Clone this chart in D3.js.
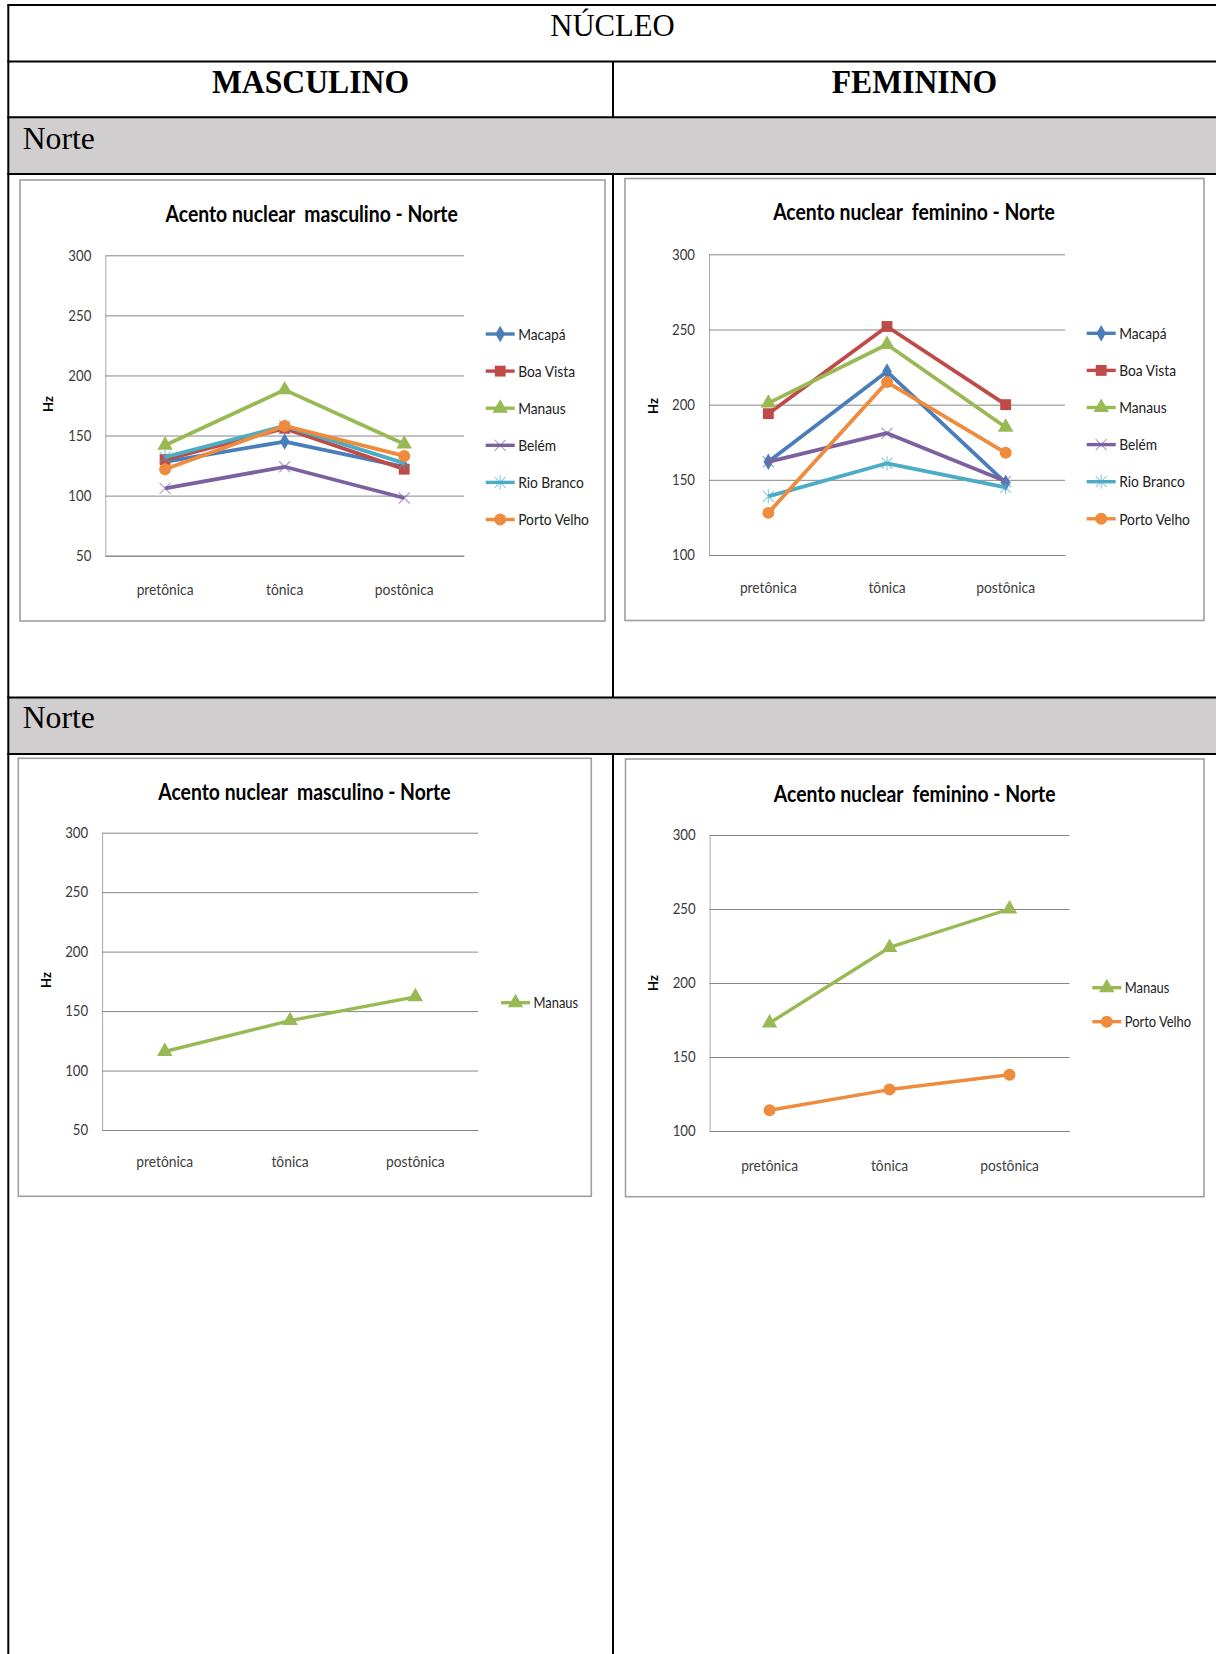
<!DOCTYPE html>
<html>
<head>
<meta charset="utf-8">
<script src="https://cdn.jsdelivr.net/npm/d3@7"></script>
<style>
  html, body { margin: 0; padding: 0; background: #fff; }
  svg { display: block; }
  text { white-space: pre; }
</style>
</head>
<body>
<svg id="page" width="1216" height="1654"></svg>
<script>
// ---- data -------------------------------------------------------------
const categories = ["pretônica", "tônica", "postônica"];
const cities = ["Macapá", "Boa Vista", "Manaus", "Belém", "Rio Branco", "Porto Velho"];
const cityColors = ["#4a7ebb", "#be4b48", "#98b954", "#7d60a0", "#4bacc6", "#ee8b3c"];
const cityMarkers = ["diamond", "square", "triangle", "cross", "asterisk", "circle"];

// Acento nuclear masculino - Norte (Hz), one row per city
const mascNorteValues = [
  [128, 145, 124],   // Macapá
  [130, 156, 122],   // Boa Vista
  [142, 188, 143],   // Manaus
  [106, 124, 98],    // Belém
  [132, 158, 127],   // Rio Branco
  [122, 158, 133]    // Porto Velho
];
// Acento nuclear feminino - Norte (Hz)
const femNorteValues = [
  [162, 222, 148],   // Macapá
  [194, 252, 200],   // Boa Vista
  [201, 240, 185],   // Manaus
  [162, 181, 149],   // Belém
  [139, 161, 145],   // Rio Branco
  [128, 215, 168]    // Porto Velho
];
// second block: Manaus only (masculino)
const mascManausCities = ["Manaus"];
const mascManausValues = [[116, 142, 162]];
// second block: Manaus and Porto Velho (feminino)
const femPairCities = ["Manaus", "Porto Velho"];
const femPairValues = [
  [173, 224, 250],
  [114, 128, 138]
];

const mascTicks = [50, 100, 150, 200, 250, 300];
const femTicks = [100, 150, 200, 250, 300];

const headerTitle = "NÚCLEO";
const columnTitles = ["MASCULINO", "FEMININO"];
const regionLabel = "Norte";
const mascTitle = "Acento nuclear  masculino - Norte";
const femTitle = "Acento nuclear  feminino - Norte";
const yLabel = "Hz";

// ---- page frame -------------------------------------------------------
const svg = d3.select("#page");
const serif = "'Liberation Serif', 'Times New Roman', serif";
const chartFont = "Lato, 'Open Sans', sans-serif";

function condense(sel, k) {
  sel.each(function () {
    const w = this.getComputedTextLength();
    d3.select(this).attr("textLength", w * k).attr("lengthAdjust", "spacingAndGlyphs");
  });
}

const frame = svg.append("g");
const leftX = 8.3, midX = 613, rightX = 1217;
const rows = { top: 5, head2: 61.5, band1: 117.3, body1: 174, band2: 697.5, body2: 754, end: 1654 };

// grey region bands
[[rows.band1, rows.body1], [rows.band2, rows.body2]].forEach(([a, b]) => {
  frame.append("rect").attr("x", leftX).attr("y", a).attr("width", rightX - leftX).attr("height", b - a)
    .attr("fill", "#d0cecf");
});

// horizontal rules
[rows.top, rows.head2, rows.band1, rows.body1, rows.band2, rows.body2].forEach(yv => {
  frame.append("line").attr("x1", leftX - 1).attr("x2", rightX).attr("y1", yv).attr("y2", yv)
    .attr("stroke", "#000").attr("stroke-width", 2);
});
// vertical rules
frame.append("line").attr("x1", leftX).attr("x2", leftX).attr("y1", rows.top).attr("y2", rows.end)
  .attr("stroke", "#000").attr("stroke-width", 2);
[[rows.head2, rows.band1], [rows.body1, rows.band2], [rows.body2, rows.end]].forEach(([a, b]) => {
  frame.append("line").attr("x1", midX).attr("x2", midX).attr("y1", a).attr("y2", b)
    .attr("stroke", "#000").attr("stroke-width", 2);
});

const head = frame.append("text").attr("x", 612.5).attr("y", 36).attr("text-anchor", "middle")
  .attr("font-family", serif).attr("font-size", 32).text(headerTitle);
condense(head, 0.96);
const cols = frame.selectAll("text.col").data(columnTitles).enter().append("text").attr("class", "col")
  .attr("x", (d, i) => i === 0 ? 310.5 : 914.5).attr("y", 93).attr("text-anchor", "middle")
  .attr("font-family", serif).attr("font-size", 33).attr("font-weight", "bold").text(d => d);
condense(cols, 0.96);
[149, 728].forEach(yv => {
  const n = frame.append("text").attr("x", 22.7).attr("y", yv).attr("font-family", serif)
    .attr("font-size", 32).text(regionLabel);
  condense(n, 0.99);
});

// ---- chart helpers ----------------------------------------------------
function markerPath(type, r) {
  if (type === "cross") return `M${-r},${-r}L${r},${r}M${-r},${r}L${r},${-r}`;
  if (type === "asterisk") return `M${-r},${-r}L${r},${r}M${-r},${r}L${r},${-r}M0,${-r * 1.3}L0,${r * 1.3}`;
  const sym = {
    diamond: [d3.symbolDiamond, 80],
    square: [d3.symbolSquare, 118],
    triangle: [d3.symbolTriangle, 104],
    circle: [d3.symbolCircle, 112]
  }[type];
  return d3.symbol(sym[0], sym[1])();
}

function drawMarker(g, type, color, cx, cy) {
  const open = type === "cross" || type === "asterisk";
  g.append("path").attr("d", markerPath(type, open ? 5.5 : 0))
    .attr("transform", `translate(${cx},${cy})`)
    .attr("fill", open ? "none" : color)
    .attr("stroke", open ? color : "none")
    .attr("stroke-opacity", open ? 0.6 : 1)
    .attr("stroke-width", open ? 1.2 : 0);
}

function drawChart(spec) {
  const g = svg.append("g");
  const { box, plot } = spec;

  g.append("rect").attr("x", box.x).attr("y", box.y).attr("width", box.w).attr("height", box.h)
    .attr("fill", "#fff").attr("stroke", "#9f9f9f").attr("stroke-width", 1.6);

  const x = d3.scaleBand().domain(categories).range([plot.l, plot.r]);
  const y = d3.scaleLinear().domain(d3.extent(spec.ticks)).range([plot.b, plot.t]);
  const cx = c => x(c) + x.bandwidth() / 2;

  // value axis with gridlines
  const ga = g.append("g").attr("transform", `translate(${plot.l},0)`)
    .call(d3.axisLeft(y).tickValues(spec.ticks).tickSize(-(plot.r - plot.l)).tickSizeOuter(0)
      .tickPadding(14).tickFormat(d3.format("d")));
  ga.select(".domain").attr("stroke", "#a9a9a9").attr("stroke-width", 1);
  ga.selectAll(".tick line").attr("stroke", "#868686").attr("stroke-width", 1);
  ga.selectAll("text").attr("font-family", chartFont).attr("font-size", 15).attr("fill", "#3a3a3a");
  condense(ga.selectAll("text"), 0.88);

  // category axis
  const gx = g.append("g").attr("transform", `translate(0,${plot.b})`)
    .call(d3.axisBottom(x).tickSize(0).tickSizeOuter(0).tickPadding(spec.catPad));
  gx.select(".domain").attr("stroke", "#868686").attr("stroke-width", 1);
  gx.selectAll("text").attr("font-family", chartFont).attr("font-size", 15).attr("fill", "#404040");
  condense(gx.selectAll("text"), 0.92);

  // title
  const t = g.append("text").attr("x", spec.titleX).attr("y", spec.titleY).attr("text-anchor", "middle")
    .attr("font-family", chartFont).attr("font-weight", "bold").attr("font-size", 22.5).attr("fill", "#000")
    .text(spec.title);
  condense(t, 0.86);

  // y label
  g.append("text").attr("transform", `translate(${spec.hz[0]},${spec.hz[1]}) rotate(-90)`)
    .attr("text-anchor", "middle").attr("dy", "0.36em")
    .attr("font-family", chartFont).attr("font-weight", "bold").attr("font-size", 13).text(yLabel);

  // series
  const line = d3.line().x((d, i) => cx(categories[i])).y(d => y(d));
  spec.names.forEach((name, si) => {
    const ci = cities.indexOf(name);
    const color = cityColors[ci];
    const vals = spec.values[si];
    g.append("path").attr("d", line(vals)).attr("fill", "none").attr("stroke", color)
      .attr("stroke-width", spec.lineWidth).attr("stroke-linejoin", "round");
    vals.forEach((v, i) => drawMarker(g, cityMarkers[ci], color, cx(categories[i]), y(v)));
  });

  // legend
  const lg = g.append("g");
  spec.names.forEach((name, si) => {
    const ci = cities.indexOf(name);
    const color = cityColors[ci];
    const ly = spec.legend.y + si * spec.legend.step;
    lg.append("line").attr("x1", spec.legend.x).attr("x2", spec.legend.x + 29).attr("y1", ly).attr("y2", ly)
      .attr("stroke", color).attr("stroke-width", 3.4);
    drawMarker(lg, cityMarkers[ci], color, spec.legend.x + 14.5, ly);
    const lt = lg.append("text").attr("x", spec.legend.x + 32.5).attr("y", ly).attr("dy", "0.36em")
      .attr("font-family", chartFont).attr("font-size", spec.legend.size).attr("fill", "#222")
      .text(name);
    condense(lt, 0.86);
  });
}

// ---- the four charts --------------------------------------------------
drawChart({
  box: { x: 20, y: 180, w: 585, h: 441 },
  plot: { l: 105.3, t: 255.3, r: 464, b: 555.7 },
  ticks: mascTicks, catPad: 28.5, lineWidth: 3.8,
  title: mascTitle, titleX: 311.7, titleY: 222.3, hz: [48.3, 404],
  names: cities, values: mascNorteValues,
  legend: { x: 485.7, y: 334, step: 37.1, size: 16 }
});
drawChart({
  box: { x: 625, y: 178.5, w: 579, h: 442 },
  plot: { l: 709, t: 254.3, r: 1065, b: 555 },
  ticks: femTicks, catPad: 27.5, lineWidth: 3.8,
  title: femTitle, titleX: 914, titleY: 220, hz: [653, 406],
  names: cities, values: femNorteValues,
  legend: { x: 1086.7, y: 333.3, step: 37.1, size: 16 }
});
drawChart({
  box: { x: 18.3, y: 758.3, w: 573, h: 438 },
  plot: { l: 102.1, t: 832.7, r: 478, b: 1130 },
  ticks: mascTicks, catPad: 26, lineWidth: 3.4,
  title: mascTitle, titleX: 304.4, titleY: 800, hz: [46.6, 980],
  names: mascManausCities, values: mascManausValues,
  legend: { x: 501, y: 1002.7, step: 34, size: 15 }
});
drawChart({
  box: { x: 625.5, y: 759, w: 578.5, h: 437.7 },
  plot: { l: 709.6, t: 835, r: 1069.5, b: 1131 },
  ticks: femTicks, catPad: 29, lineWidth: 3.4,
  title: femTitle, titleX: 914.7, titleY: 801.5, hz: [653.3, 983],
  names: femPairCities, values: femPairValues,
  legend: { x: 1092.3, y: 987.7, step: 34, size: 15 }
});
</script>
</body>
</html>
